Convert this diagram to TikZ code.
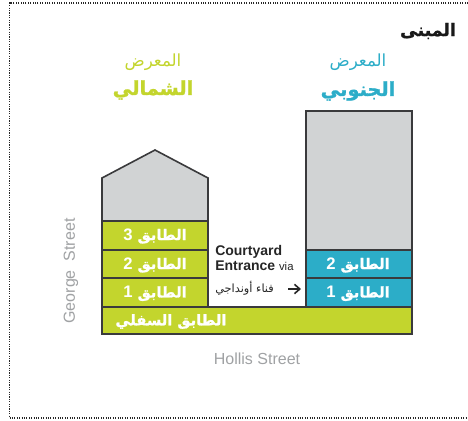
\documentclass[tikz,border=0pt]{standalone}
\usepackage{fontspec}
\setmainfont{Liberation Sans}
\newfontfamily\arabicfont[Script=Arabic]{DejaVu Sans}
\newfontfamily\arabicheavy[Script=Arabic,FakeBold=1.2]{DejaVu Sans Bold}
\TeXXeTstate=1
\usetikzlibrary{arrows.meta}
\definecolor{lime}{HTML}{C3D52D}
\definecolor{teal}{HTML}{2CADC8}
\definecolor{roofgray}{HTML}{D1D3D4}
\definecolor{linedark}{HTML}{3A3A3C}
\definecolor{streetgray}{HTML}{A0A2A4}
\newcommand{\ar}[1]{\beginR #1\endR}
\newcommand{\floorlab}[2]{\beginL{\rmfamily\bfseries\fontsize{12.5}{13}\selectfont #2}\endL\ \beginR #1\endR}
\tikzset{
  x=0.75pt,y=-0.75pt,
  wall/.style={draw=linedark,line width=1.2pt},
  floorlabel/.style={text=white,font=\arabicheavy\fontsize{11}{13}\selectfont,inner sep=0pt,anchor=center},
  streetlabel/.style={text=streetgray,font=\fontsize{12}{13}\selectfont,inner sep=0pt},
  headlight/.style={font=\arabicfont\fontsize{12.5}{14}\selectfont,inner sep=0pt},
  headbold/.style={font=\arabicheavy\fontsize{14.5}{16}\selectfont,inner sep=0pt},
}
\begin{document}
\begin{tikzpicture}
\useasboundingbox (0,0) rectangle (468,421);
\fill[white] (0,0) rectangle (468,421);
\draw[densely dotted,line width=0.8pt,black!85] (468,3) -- (9.5,3) -- (9.5,418) -- (468,418);
% north gallery
\draw[wall,fill=roofgray] (102,221) -- (102,178) -- (155,150) -- (208,178) -- (208,221) -- cycle;
\draw[wall,fill=lime] (102,221) rectangle (208,250);
\draw[wall,fill=lime] (102,250) rectangle (208,278);
\draw[wall,fill=lime] (102,278) rectangle (208,307);
% south gallery
\draw[wall,fill=roofgray] (306,111) rectangle (412,250);
\draw[wall,fill=teal] (306,250) rectangle (412,278);
\draw[wall,fill=teal] (306,278) rectangle (412,307);
% basement
\draw[wall,fill=lime] (102,307) rectangle (412,334);
% floor labels
\node[floorlabel] (n3) at (155,236) {\floorlab{الطابق}{3}};
\node[floorlabel] (n2) at (155,265) {\floorlab{الطابق}{2}};
\node[floorlabel] (n1) at (155,293.5) {\floorlab{الطابق}{1}};
\node[floorlabel] (s2) at (358,265) {\floorlab{الطابق}{2}};
\node[floorlabel] (s1) at (358,293.5) {\floorlab{الطابق}{1}};
\node[floorlabel] (base) at (171,321.5) {\ar{الطابق السفلي}};
% headings
\node[font=\arabicheavy\fontsize{13}{16}\selectfont,inner sep=0pt,text=black!90] (title) at (428,31) {\ar{المبنى}};
\node[headlight,text=lime] (nh1) at (153,62) {\ar{المعرض}};
\node[headbold,text=lime] (nh2) at (153,90) {\ar{الشمالي}};
\node[headlight,text=teal] (sh1) at (358,62) {\ar{المعرض}};
\node[headbold,text=teal] (sh2) at (358,91) {\ar{الجنوبي}};
% courtyard
\node[anchor=base west,inner sep=0pt,text=black!85,font=\bfseries\fontsize{10.5}{11}\selectfont] (c1) at (215,255.5) {Courtyard};
\node[anchor=base west,inner sep=0pt,text=black!85,font=\fontsize{10.5}{11}\selectfont] (c2) at (215,270.5) {\textbf{Entrance} {\fontsize{8.5}{11}\selectfont via}};
\node[anchor=west,inner sep=0pt,text=black!85,font=\arabicfont\fontsize{8.5}{11}\selectfont] (c3) at (215,288) {\ar{فناء أونداجي}};
\coordinate (arrowa) at (288,289);
\coordinate (arrowb) at (301,289);
\draw[-{Straight Barb[length=4pt,width=7pt,line width=1.2pt]},line width=1.2pt,black!85] (arrowa) -- (arrowb);
% streets
\node[streetlabel,rotate=90] (george) at (71,271) {George \ Street};
\node[streetlabel] (hollis) at (257,359) {Hollis Street};
\end{tikzpicture}
\end{document}
